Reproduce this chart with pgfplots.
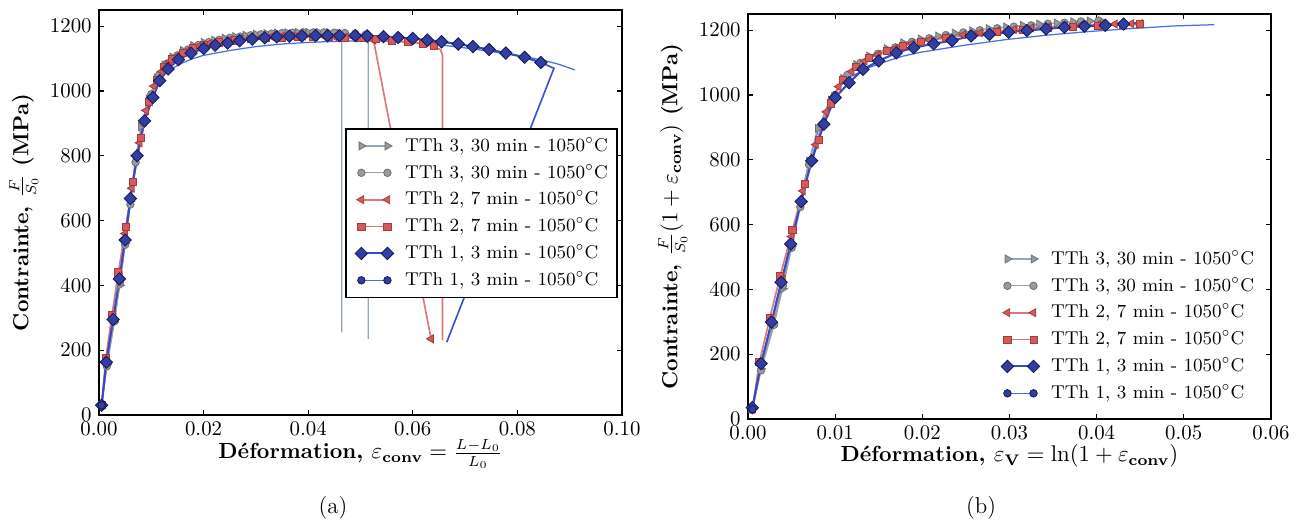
\documentclass[border=0pt]{standalone}
\usepackage{amsmath}
\usepackage{pgfplots}
\pgfplotsset{compat=1.18}
\definecolor{gline}{RGB}{145,168,185}
\definecolor{gfill}{RGB}{150,155,158}
\definecolor{gedge}{RGB}{110,115,118}
\definecolor{rline}{RGB}{222,120,120}
\definecolor{rfill}{RGB}{214,90,90}
\definecolor{redge}{RGB}{165,60,60}
\definecolor{bline}{RGB}{50,75,200}
\definecolor{bfill}{RGB}{50,62,160}
\definecolor{bedge}{RGB}{20,25,90}
\definecolor{lbline}{RGB}{75,110,225}
\pgfplotsset{
  myaxis/.style={
    scale only axis, width=251pt, height=194.4pt,
    ymin=0, ymax=1250, ytick={0,200,...,1200},
    tick align=inside, major tick length=2.5pt,
    axis line style={line width=0.8pt, black},
    tick style={line width=0.5pt, black},
    tick label style={font=\fontsize{10}{12}\selectfont},
    yticklabel style={/pgf/number format/1000 sep={}},
    xticklabel style={/pgf/number format/.cd, fixed, fixed zerofill, precision=2},
    scaled x ticks=false,
    label style={font=\fontsize{10.5}{12.5}\selectfont\bfseries},
    ylabel style={at={(axis description cs:-0.102,0.5)}, anchor=south},
    legend cell align=left,
    legend image code/.code={\draw plot coordinates {(0pt,0pt) (12.5pt,0pt)}; \path (20.5pt,0pt);},
    legend style={font=\fontsize{8.9}{11}\selectfont, anchor=north west,
      inner xsep=4.5pt, inner ysep=3.7pt, row sep=3.9pt,
      nodes={inner sep=0pt, text height=7pt, text depth=2pt}},
  },
  sG1/.style={color=gline, line width=0.6pt, mark=triangle*, mark size=2.2pt, mark options={rotate=-90, fill=gfill, draw=gedge, line width=0.4pt}},
  sG2/.style={color=gline, line width=0.6pt, mark=*, mark size=1.8pt, mark options={fill=gfill, draw=gedge, line width=0.4pt}},
  sR1/.style={color=rline, line width=0.8pt, mark=triangle*, mark size=2.2pt, mark options={rotate=90, fill=rfill, draw=redge, line width=0.4pt}},
  sR2/.style={color=rline, line width=0.8pt, mark=square*, mark size=1.7pt, mark options={fill=rfill, draw=redge, line width=0.4pt}},
  sB1/.style={color=bline, line width=1pt, mark=square*, mark size=2.1pt, mark options={rotate=45, fill=bfill, draw=bedge, line width=0.4pt}},
  sB2/.style={color=lbline, line width=0.6pt, mark=*, mark size=1.8pt, mark options={fill=bfill, draw=bedge, line width=0.4pt}},
}
\begin{document}
\begin{tikzpicture}
\path[use as bounding box] (-47.52pt,-54.72pt) rectangle (578.4pt,199.2pt);
% ---------------- (a) ----------------
\begin{axis}[myaxis, at={(0pt,0pt)}, anchor=south west,
  xmin=0, xmax=0.1, xtick={0,0.02,...,0.1},
  xlabel={Déformation, $\varepsilon_{\textbf{conv}} = \frac{L-L_0}{L_0}$},
  ylabel={Contrainte, $\frac{F}{S_0}$ (MPa)},
  xlabel style={at={(axis description cs:0.5,-0.1086)}, anchor=base},
  legend style={at={(0.4704,0.7086)}, draw=black, line width=0.8pt, fill=white}]
% thin blue line (TTh1 circles)
\addplot[color=lbline, line width=0.6pt, forget plot] coordinates {
(0.0005,30)(0.0015,160)(0.003,295)(0.004,420)(0.005,540)(0.006,665)(0.007,790)(0.008,880)(0.009,950)(0.010,995)(0.011,1025)(0.012,1045)(0.014,1070)(0.016,1087)(0.018,1100)(0.020,1110)(0.025,1125)(0.030,1137)(0.035,1145)(0.040,1150)(0.045,1153)(0.050,1155)(0.055,1154)(0.060,1150)(0.065,1143)(0.070,1133)(0.075,1122)(0.080,1110)(0.085,1095)(0.088,1082)(0.091,1065)};
% tails
\addplot[color=gline, line width=0.6pt, forget plot] coordinates {(0.046,1178)(0.0464,1165)(0.0464,255)};
\addplot[color=gline, line width=0.6pt, forget plot] coordinates {(0.051,1174)(0.0515,1160)(0.0515,235)};
\addplot[color=rline, line width=0.8pt, forget plot] coordinates {(0.064,1138)(0.0653,1128)(0.0657,1110)(0.0657,230)};
\addplot[color=bline!70!lbline, line width=0.8pt, forget plot] coordinates {(0.0845,1088)(0.087,1070)(0.0665,225)};
% TTh3 triangles
\addplot[sG1] coordinates {
(0.0005,30)(0.0015,155)(0.0028,285)(0.004,400)(0.005,530)(0.006,660)(0.007,790)(0.008,890)(0.0095,975)(0.011,1040)(0.0125,1080)(0.014,1105)(0.016,1125)(0.018,1140)(0.020,1150)(0.022,1157)(0.024,1163)(0.026,1168)(0.028,1172)(0.030,1175)(0.032,1177)(0.034,1179)(0.036,1180)(0.038,1181)(0.040,1181)(0.042,1181)(0.044,1180)(0.046,1178)};
\addlegendentry{TTh 3, 30 min - 1050$^\circ$C}
% TTh3 circles
\addplot[sG2] coordinates {
(0.0005,30)(0.0015,150)(0.003,290)(0.004,410)(0.005,525)(0.006,650)(0.007,780)(0.0085,900)(0.010,990)(0.0115,1050)(0.013,1085)(0.015,1110)(0.017,1128)(0.019,1142)(0.021,1151)(0.023,1158)(0.025,1164)(0.027,1168)(0.029,1172)(0.031,1175)(0.033,1177)(0.035,1179)(0.037,1180)(0.039,1181)(0.041,1181)(0.043,1181)(0.045,1180)(0.047,1179)(0.049,1177)(0.051,1174)};
\addlegendentry{TTh 3, 30 min - 1050$^\circ$C}
% TTh2 triangles
\addplot[sR1] coordinates {
(0.0005,30)(0.0015,165)(0.0028,300)(0.004,430)(0.005,560)(0.0063,700)(0.0078,840)(0.009,940)(0.0105,1015)(0.012,1060)(0.0135,1090)(0.015,1108)(0.017,1125)(0.019,1137)(0.021,1146)(0.023,1152)(0.025,1157)(0.027,1161)(0.029,1164)(0.031,1166)(0.033,1168)(0.035,1169)(0.037,1170)(0.039,1170)(0.041,1170)(0.043,1169)(0.045,1168)(0.047,1166)(0.049,1164)(0.051,1161)(0.0525,1157)(0.0635,235)};
\addlegendentry{TTh 2, 7 min - 1050$^\circ$C}
% TTh2 squares
\addplot[sR2] coordinates {
(0.0005,30)(0.0013,175)(0.0025,310)(0.0037,440)(0.0051,580)(0.0065,720)(0.0081,855)(0.0095,965)(0.011,1035)(0.0125,1075)(0.014,1100)(0.016,1118)(0.018,1132)(0.020,1142)(0.023,1150)(0.026,1156)(0.029,1160)(0.032,1163)(0.035,1165)(0.038,1166)(0.041,1166)(0.044,1166)(0.047,1165)(0.050,1163)(0.053,1160)(0.056,1156)(0.059,1152)(0.062,1146)(0.064,1138)};
\addlegendentry{TTh 2, 7 min - 1050$^\circ$C}
% TTh1 diamonds
\addplot[sB1] coordinates {
(0.0005,30)(0.0014,163)(0.0027,295)(0.0039,420)(0.005,540)(0.006,668)(0.0073,800)(0.0087,908)(0.0103,980)(0.0116,1032)(0.0132,1068)(0.0152,1097)(0.0176,1117)(0.020,1131)(0.0222,1141)(0.0246,1148)(0.0269,1155)(0.0293,1160)(0.0317,1164)(0.034,1167)(0.0364,1169)(0.0388,1170)(0.0414,1171)(0.0437,1171)(0.046,1171)(0.049,1171)(0.0513,1170)(0.0544,1168)(0.0572,1165)(0.060,1162)(0.0628,1157)(0.0655,1152)(0.0687,1145)(0.0715,1137)(0.0746,1128)(0.0778,1117)(0.0814,1104)(0.0845,1088)};
\addlegendentry{TTh 1, 3 min - 1050$^\circ$C}
% TTh1 circles (marker only at start)
\addplot[sB2] coordinates {(0.0005,30)};
\addlegendentry{TTh 1, 3 min - 1050$^\circ$C}
\end{axis}
% ---------------- (b) ----------------
\begin{axis}[myaxis, at={(311.52pt,-1.92pt)}, anchor=south west,
  xmin=0, xmax=0.06, xtick={0,0.01,...,0.06},
  xlabel={Déformation, $\varepsilon_{\textbf{V}} = \ln(1+\varepsilon_{\textbf{conv}})$},
  ylabel={Contrainte, $\frac{F}{S_0}(1+\varepsilon_{\textbf{conv}})$ (MPa)},
  xlabel style={at={(axis description cs:0.5,-0.106)}, anchor=base},
  legend style={at={(0.4656,0.4384)}, draw=none, fill=none}]
\addplot[color=lbline, line width=0.6pt, forget plot] coordinates {
(0.0005,30)(0.0015,160)(0.003,296)(0.004,422)(0.005,543)(0.006,669)(0.007,796)(0.008,887)(0.009,959)(0.00995,1005)(0.0109,1036)(0.0119,1058)(0.0139,1085)(0.0159,1104)(0.0178,1120)(0.0198,1132)(0.0247,1153)(0.0296,1171)(0.0344,1185)(0.0392,1196)(0.0440,1205)(0.0488,1213)(0.0535,1217)};
\addplot[sG1] coordinates {
(0.0005,30)(0.0015,155)(0.0028,286)(0.004,402)(0.005,533)(0.006,664)(0.007,796)(0.008,897)(0.0095,984)(0.0109,1051)(0.0124,1094)(0.0139,1120)(0.0159,1143)(0.0178,1161)(0.0198,1173)(0.0218,1182)(0.0237,1191)(0.0257,1198)(0.0276,1205)(0.0296,1210)(0.0315,1215)(0.0334,1219)(0.0354,1222)(0.0373,1226)(0.0392,1228)(0.0405,1229)};
\addlegendentry{TTh 3, 30 min - 1050$^\circ$C}
\addplot[sG2] coordinates {
(0.0005,30)(0.0015,150)(0.003,291)(0.004,412)(0.005,528)(0.006,654)(0.007,785)(0.0085,908)(0.00995,1000)(0.0114,1062)(0.0129,1099)(0.0149,1127)(0.0169,1147)(0.0188,1164)(0.0208,1175)(0.0227,1185)(0.0247,1193)(0.0266,1200)(0.0286,1206)(0.0305,1211)(0.0325,1215)(0.0344,1220)(0.0363,1223)(0.0382,1227)(0.0402,1229)};
\addlegendentry{TTh 3, 30 min - 1050$^\circ$C}
\addplot[sR1] coordinates {
(0.0005,30)(0.0015,165)(0.0028,301)(0.004,432)(0.005,563)(0.0063,704)(0.0078,847)(0.009,948)(0.0104,1026)(0.0119,1073)(0.0134,1105)(0.0149,1125)(0.0169,1144)(0.0188,1159)(0.0208,1170)(0.0227,1178)(0.0247,1186)(0.0266,1192)(0.0286,1198)(0.0305,1202)(0.0325,1207)(0.0344,1210)(0.0363,1213)(0.0382,1216)(0.0402,1218)(0.0421,1219)(0.0440,1220)(0.0450,1220)};
\addlegendentry{TTh 2, 7 min - 1050$^\circ$C}
\addplot[sR2] coordinates {
(0.0005,30)(0.0013,175)(0.0025,311)(0.0037,442)(0.0051,583)(0.0065,725)(0.0081,862)(0.0095,974)(0.0109,1046)(0.0124,1088)(0.0139,1115)(0.0159,1136)(0.0178,1152)(0.0198,1165)(0.0227,1176)(0.0257,1186)(0.0286,1194)(0.0315,1200)(0.0344,1206)(0.0373,1210)(0.0402,1214)(0.0430,1217)(0.0450,1218)};
\addlegendentry{TTh 2, 7 min - 1050$^\circ$C}
\addplot[color=bline, line width=1pt, forget plot] coordinates {(0.0431,1219)(0.0447,1222)};
\addplot[sB1] coordinates {
(0.0005,35)(0.0015,171)(0.0027,299)(0.0038,422)(0.0049,540)(0.0061,671)(0.0073,797)(0.0087,910)(0.0100,992)(0.0116,1038)(0.0132,1079)(0.0150,1105)(0.0170,1130)(0.0190,1146)(0.0213,1158)(0.0234,1168)(0.0256,1182)(0.0277,1187)(0.0299,1194)(0.0320,1199)(0.0342,1204)(0.0363,1209)(0.0386,1212)(0.0410,1215)(0.0431,1219)};
\addlegendentry{TTh 1, 3 min - 1050$^\circ$C}
\addplot[sB2] coordinates {(0.0005,30)};
\addlegendentry{TTh 1, 3 min - 1050$^\circ$C}
\end{axis}
\node[font=\fontsize{11}{13}\selectfont] at (112.3pt,-44.64pt) {(a)};
\node[font=\fontsize{11}{13}\selectfont] at (423.4pt,-44.64pt) {(b)};
\end{tikzpicture}
\end{document}
